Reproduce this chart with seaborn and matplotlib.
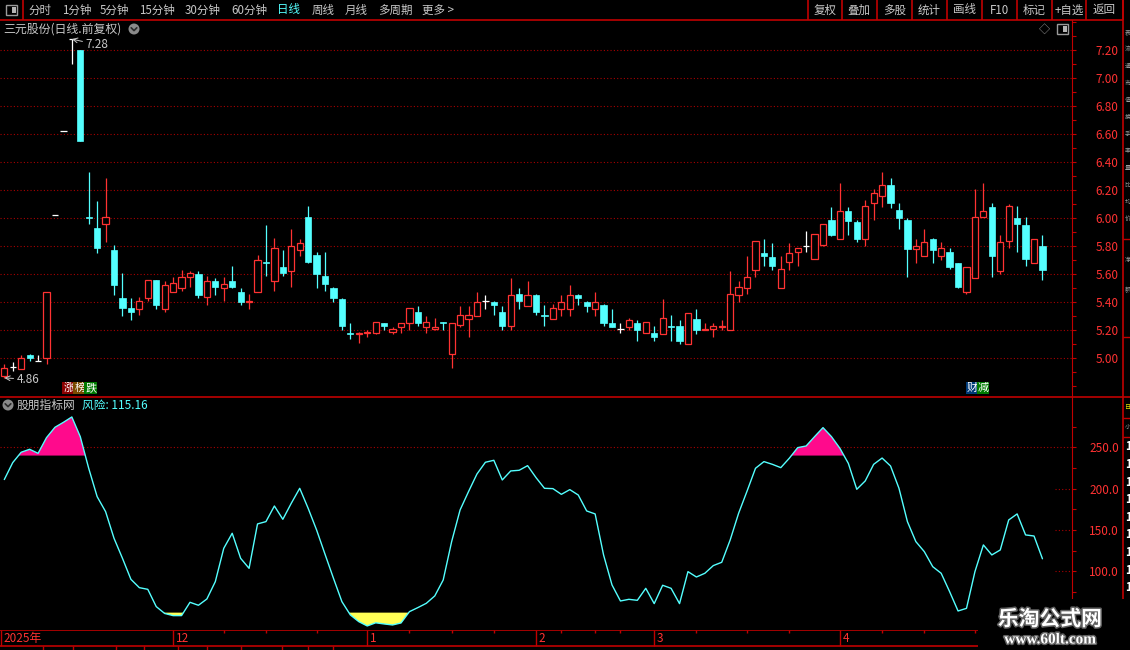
import matplotlib
matplotlib.use("Agg")
import matplotlib.pyplot as plt
import matplotlib.patheffects as pe
from matplotlib.patches import Rectangle, Circle
import numpy as np
import pandas as pd
import seaborn as sns

# ----------------------------------------------------------
# Data (daily candles, 124 sessions)
# ----------------------------------------------------------
opens = [4.87, 4.94, 4.92, 5.02, 4.98, 5.00, 6.02, 6.62, 7.28, 7.20,
         6.01, 5.93, 5.96, 5.77, 5.43, 5.36, 5.35, 5.43, 5.56, 5.35,
         5.47, 5.50, 5.58, 5.60, 5.44, 5.55, 5.50, 5.55, 5.47, 5.40,
         5.47, 5.69, 5.55, 5.65, 5.62, 5.77, 6.01, 5.74, 5.59, 5.50,
         5.42, 5.18, 5.17, 5.18, 5.18, 5.25, 5.19, 5.22, 5.25, 5.33,
         5.22, 5.21, 5.26, 5.03, 5.24, 5.28, 5.30, 5.41, 5.40, 5.33,
         5.23, 5.46, 5.37, 5.45, 5.31, 5.28, 5.35, 5.35, 5.45, 5.40,
         5.35, 5.38, 5.25, 5.21, 5.22, 5.25, 5.18, 5.18, 5.17, 5.23,
         5.23, 5.10, 5.28, 5.20, 5.21, 5.22, 5.20, 5.45, 5.50, 5.63,
         5.75, 5.72, 5.50, 5.69, 5.76, 5.80, 5.71, 5.81, 5.99, 5.85,
         6.05, 5.97, 5.85, 6.11, 6.16, 6.24, 6.06, 5.99, 5.78, 5.73,
         5.85, 5.73, 5.76, 5.68, 5.47, 5.57, 6.01, 6.08, 5.62, 5.84,
         6.00, 5.95, 5.68, 5.80]
highs = [4.96, 4.97, 5.02, 5.03, 5.02, 5.47, 6.02, 6.62, 7.28, 7.20,
         6.33, 6.12, 6.29, 5.81, 5.61, 5.43, 5.44, 5.56, 5.56, 5.55,
         5.58, 5.63, 5.62, 5.62, 5.59, 5.57, 5.58, 5.66, 5.50, 5.46,
         5.74, 5.95, 5.86, 5.77, 5.92, 5.85, 6.09, 5.76, 5.76, 5.51,
         5.43, 5.25, 5.19, 5.20, 5.26, 5.25, 5.22, 5.25, 5.36, 5.37,
         5.30, 5.29, 5.26, 5.25, 5.37, 5.37, 5.47, 5.45, 5.41, 5.37,
         5.57, 5.50, 5.55, 5.46, 5.38, 5.39, 5.45, 5.52, 5.46, 5.41,
         5.47, 5.39, 5.35, 5.25, 5.29, 5.27, 5.26, 5.23, 5.42, 5.31,
         5.27, 5.32, 5.35, 5.25, 5.25, 5.27, 5.62, 5.55, 5.73, 5.84,
         5.85, 5.82, 5.73, 5.82, 5.79, 5.91, 5.89, 5.96, 6.08, 6.25,
         6.08, 5.99, 6.13, 6.21, 6.33, 6.29, 6.11, 6.00, 5.85, 5.92,
         5.86, 5.83, 5.79, 5.68, 5.65, 6.21, 6.25, 6.11, 5.88, 6.10,
         6.09, 6.01, 5.85, 5.88]
lows = [4.86, 4.91, 4.92, 4.98, 4.98, 4.96, 6.02, 6.62, 7.10, 6.55,
        5.96, 5.75, 5.83, 5.45, 5.30, 5.27, 5.31, 5.41, 5.35, 5.33,
        5.47, 5.48, 5.51, 5.43, 5.38, 5.45, 5.41, 5.50, 5.38, 5.35,
        5.47, 5.59, 5.48, 5.59, 5.51, 5.73, 5.68, 5.50, 5.48, 5.40,
        5.20, 5.14, 5.11, 5.15, 5.17, 5.20, 5.17, 5.18, 5.20, 5.23,
        5.18, 5.20, 5.20, 4.93, 5.22, 5.15, 5.30, 5.35, 5.31, 5.20,
        5.20, 5.35, 5.37, 5.31, 5.23, 5.28, 5.30, 5.30, 5.38, 5.33,
        5.30, 5.23, 5.22, 5.18, 5.20, 5.12, 5.18, 5.12, 5.17, 5.12,
        5.10, 5.10, 5.17, 5.20, 5.15, 5.20, 5.20, 5.40, 5.46, 5.58,
        5.66, 5.63, 5.50, 5.63, 5.66, 5.76, 5.71, 5.80, 5.87, 5.85,
        5.88, 5.83, 5.80, 5.99, 6.08, 6.07, 5.92, 5.58, 5.68, 5.73,
        5.68, 5.70, 5.64, 5.50, 5.46, 5.57, 6.01, 5.58, 5.60, 5.79,
        5.76, 5.66, 5.68, 5.56]
closes = [4.93, 4.94, 5.00, 5.00, 4.98, 5.47, 6.02, 6.62, 7.28, 6.55,
          6.00, 5.79, 6.01, 5.52, 5.36, 5.33, 5.41, 5.56, 5.38, 5.52,
          5.54, 5.58, 5.61, 5.45, 5.55, 5.51, 5.53, 5.51, 5.40, 5.41,
          5.70, 5.68, 5.79, 5.61, 5.80, 5.82, 5.69, 5.60, 5.53, 5.43,
          5.23, 5.17, 5.18, 5.19, 5.26, 5.23, 5.21, 5.25, 5.36, 5.25,
          5.26, 5.22, 5.25, 5.25, 5.31, 5.31, 5.40, 5.41, 5.38, 5.23,
          5.45, 5.41, 5.45, 5.33, 5.30, 5.36, 5.40, 5.45, 5.43, 5.37,
          5.40, 5.25, 5.22, 5.21, 5.27, 5.20, 5.26, 5.15, 5.29, 5.22,
          5.12, 5.32, 5.20, 5.21, 5.23, 5.23, 5.46, 5.51, 5.58, 5.84,
          5.73, 5.66, 5.64, 5.75, 5.79, 5.80, 5.89, 5.96, 5.88, 6.05,
          5.98, 5.85, 6.09, 6.18, 6.24, 6.11, 6.00, 5.78, 5.80, 5.83,
          5.77, 5.79, 5.65, 5.51, 5.65, 6.01, 6.05, 5.73, 5.83, 6.09,
          5.96, 5.71, 5.85, 5.63]

# "风险" indicator, one value per session
risk = [211.0, 231.5, 244.0, 247.6, 242.7, 261.7, 274.2, 280.2, 286.7, 262.9,
        224.6, 190.3, 172.2, 139.9, 115.7, 90.3, 80.2, 78.2, 57.3, 49.0,
        46.4, 46.4, 62.5, 58.9, 66.5, 87.5, 127.8, 146.0, 115.7, 103.6,
        157.3, 160.1, 179.0, 162.9, 182.3, 200.4, 176.2, 150.0, 120.6, 91.5,
        63.3, 47.2, 39.1, 33.9, 37.7, 36.3, 35.1, 37.5, 51.2, 56.1,
        61.3, 70.2, 89.5, 135.9, 174.2, 196.4, 217.7, 231.9, 234.3, 210.5,
        221.4, 222.2, 227.8, 213.3, 200.4, 200.0, 193.1, 198.8, 192.3, 173.0,
        169.4, 119.8, 83.5, 64.1, 66.1, 64.9, 79.4, 60.9, 83.1, 79.4,
        60.9, 99.6, 93.1, 97.6, 106.9, 110.9, 137.9, 170.2, 197.0, 224.6,
        232.7, 229.4, 225.4, 236.7, 249.6, 251.6, 262.9, 273.8, 262.9, 248.8,
        230.6, 199.2, 209.3, 229.4, 237.0, 227.4, 200.4, 160.1, 135.9, 123.8,
        105.6, 97.6, 75.4, 52.0, 55.2, 99.6, 131.9, 119.8, 125.8, 162.1,
        169.4, 144.0, 142.7, 115.16]

risk_high = 240
risk_low = 50

month_labels = ["2025年", "12", "1", "2", "3", "4"]
month_index = [-0.45, 20, 43, 63, 77, 99]
week_index = [26, 31, 37, 48, 53, 58, 66, 70, 73, 82, 88, 93, 104, 109, 115]
lower_row_index = [4.6, 8.1, 13.2, 16.6, 20.6, 24, 28, 32.9, 36, 39]

price_labels = np.round(np.arange(5.0, 7.21, 0.2), 2)
risk_labels = [100, 150, 200, 250]

menu_items = ["分时", "1分钟", "5分钟", "15分钟", "30分钟", "60分钟",
              "日线", "周线", "月线", "多周期", "更多 >"]
button_items = ["复权", "叠加", "多股", "统计", "画线", "F10", "标记", "+自选", "返回"]

tag_events = [7, 114]
tag_texts = [["涨", "榜", "跌"], ["财", "减"]]
tag_colors = [["#8A0000", "#7A4A00", "#007A00"], ["#003A78", "#007A00"]]

# ----------------------------------------------------------
# Style
# ----------------------------------------------------------
sns.set_style("dark", {"axes.facecolor": "black", "figure.facecolor": "black"})
plt.rcParams["font.family"] = ["Noto Sans CJK SC", "DejaVu Sans"]
plt.rcParams["axes.unicode_minus"] = False

RED = "#FF3232"
CYAN = "#54FFFF"
GRID = "#A80000"
EDGE = "#C00000"
GRAY = "#C8C8C8"
PINK = "#FF0A8C"
YELLOW = "#FFFF55"

df = pd.DataFrame({"open": opens, "high": highs, "low": lows,
                   "close": closes, "risk": risk})
df["i"] = np.arange(len(df))

W, H = 1130, 650
fig = plt.figure(figsize=(W / 100, H / 100), dpi=100, facecolor="black")


def box(x0, y0, x1, y1):
    return [x0 / W, 1 - y1 / H, (x1 - x0) / W, (y1 - y0) / H]


ax = fig.add_axes(box(0, 20, 1072, 396))
axl = fig.add_axes(box(0, 397, 1072, 630), sharex=ax)
axd = fig.add_axes(box(0, 630, 1072, 650), sharex=ax)

for a in (ax, axl, axd):
    a.set_facecolor("black")
    for s in a.spines.values():
        s.set_visible(False)
    a.grid(False)
    a.tick_params(axis="x", bottom=False, labelbottom=False)

ax.set_xlim(-0.51, 126.5)

# ----------------------------------------------------------
# Candles
# ----------------------------------------------------------
up = df[df["close"] > df["open"]]
dn = df[df["close"] < df["open"]]
eq = df[df["close"] == df["open"]]
wick_colors = np.where(df["close"] > df["open"], RED,
                       np.where(df["close"] < df["open"], CYAN, "white"))

ax.vlines(df["i"], df["low"], df["high"], colors=wick_colors, lw=0.9, zorder=2)
ax.bar(up["i"], (up["close"] - up["open"]).clip(lower=0.008), bottom=up["open"],
       width=0.74, facecolor="black", edgecolor=RED, linewidth=0.9, zorder=3)
ax.bar(dn["i"], (dn["open"] - dn["close"]).clip(lower=0.008), bottom=dn["close"],
       width=0.74, facecolor=CYAN, edgecolor=CYAN, linewidth=0.5, zorder=3)
ax.hlines(eq["open"], eq["i"] - 0.37, eq["i"] + 0.37, colors="white", lw=0.9, zorder=3)

ax.set_ylim(4.7307, 7.4164)
ax.yaxis.tick_right()
ax.set_yticks(price_labels)
ax.set_yticks(np.round(np.arange(4.8, 7.41, 0.1), 2), minor=True)
ax.yaxis.set_major_formatter("{x:.2f}")
ax.tick_params(axis="y", which="both", direction="out", length=3, width=0.8,
               color=EDGE, labelcolor=RED, labelsize=8.5, pad=14)
ax.spines["right"].set_visible(True)
ax.spines["right"].set_color(EDGE)
ax.hlines(price_labels, -0.51, 126.5, colors=GRID, lw=0.8,
          linestyles=(0, (1, 2)), zorder=1)

i_hi = int(np.argmax(highs))
i_lo = int(np.argmin(lows))
ax.annotate(f"{highs[i_hi]:.2f}", xy=(i_hi, highs[i_hi]), xytext=(10, -4),
            textcoords="offset points", ha="left", va="center", color=GRAY,
            fontsize=8.5, arrowprops=dict(arrowstyle="->", color=GRAY, lw=0.7,
                                          shrinkA=0, shrinkB=0))
ax.annotate(f"{lows[i_lo]:.2f}", xy=(i_lo, lows[i_lo]), xytext=(9, -1),
            textcoords="offset points", ha="left", va="center", color=GRAY,
            fontsize=8.5, arrowprops=dict(arrowstyle="->", color=GRAY, lw=0.7,
                                          shrinkA=0, shrinkB=0))

for ev, chars, cols in zip(tag_events, tag_texts, tag_colors):
    for k, (ch, c) in enumerate(zip(chars, cols)):
        ax.annotate(ch, xy=(ev, 0), xycoords=("data", "axes fraction"),
                    xytext=(k * 7.9, 5.8), textcoords="offset points",
                    ha="left", va="center", color="white", fontsize=8,
                    bbox=dict(boxstyle="square,pad=0.08", fc=c, ec="none"))

# ----------------------------------------------------------
# Risk indicator
# ----------------------------------------------------------
sns.lineplot(data=df, x="i", y="risk", ax=axl, color=CYAN, lw=1, zorder=3)
axl.fill_between(df["i"], df["risk"], risk_high, where=df["risk"] > risk_high,
                 interpolate=True, color=PINK, lw=0, zorder=2)
axl.fill_between(df["i"], df["risk"], risk_low, where=df["risk"] < risk_low,
                 interpolate=True, color=YELLOW, lw=0, zorder=2)
axl.set_xlabel("")
axl.set_ylabel("")
axl.set_ylim(28.99, 310.85)
axl.yaxis.tick_right()
axl.set_yticks(risk_labels)
axl.set_yticks([75, 125, 175, 225, 275], minor=True)
axl.yaxis.set_major_formatter("{x:.1f}")
axl.tick_params(axis="y", which="both", direction="out", length=3, width=0.8,
                color=EDGE, labelcolor=RED, labelsize=8.5, pad=9.5)
axl.tick_params(axis="x", bottom=False, labelbottom=False)
axl.spines["right"].set_visible(True)
axl.spines["right"].set_color(EDGE)
axl.axhline(250, color=GRID, lw=0.8, ls=(0, (1, 2)), zorder=1)
for v in risk_labels[:-1]:
    axl.plot([0.984, 0.998], [v, v], transform=axl.get_yaxis_transform(),
             color=GRID, lw=0.8, ls=(0, (1, 2)))

# ----------------------------------------------------------
# Date strip (month row plus a clipped second row below it)
# ----------------------------------------------------------
axd.set_ylim(0, 20)
axd.set_yticks([])
axd.axhline(20, color=EDGE, lw=1.2)
axd.axhline(4, color=EDGE, lw=1.2)
axd.vlines(month_index, 4, 20, colors=EDGE, lw=1)
axd.vlines(week_index, 17, 20, colors=EDGE, lw=1)
axd.vlines(lower_row_index, 0, 4, colors=EDGE, lw=1)
for pos, lab in zip(month_index, month_labels):
    axd.text(pos + 0.3, 11.5, lab, color=RED, fontsize=8.5, va="center", ha="left")

# ----------------------------------------------------------
# Frame, toolbar and captions (pixel overlay)
# ----------------------------------------------------------
ov = fig.add_axes([0, 0, 1, 1])
ov.set_xlim(0, W)
ov.set_ylim(H, 0)
ov.axis("off")
ov.patch.set_alpha(0)

ov.hlines(19.5, 0, 1123, colors=EDGE, lw=1.2)
ov.hlines(396.5, 0, W, colors=EDGE, lw=1.2)
ov.vlines(23, 0, 19.5, colors=EDGE, lw=1.2)
ov.vlines(1123, 0, 600, colors=EDGE, lw=1.2)
ov.hlines([239, 337, 418, 437], 1123, W, colors=EDGE, lw=1)


def toggle_icon(x, y):
    ov.add_patch(Rectangle((x, y), 11, 10, fc="black", ec="#9A9A9A", lw=1))
    ov.add_patch(Rectangle((x + 6, y + 2), 3.5, 6, fc="#B4B4B4", ec="none"))


def chevron_icon(x, y):
    ov.add_patch(Circle((x, y), 5.5, fc="#8A8A8A", ec="none"))
    ov.plot([x - 2.8, x, x + 2.8], [y - 1.2, y + 1.6, y - 1.2], color="#2A2A2A", lw=1.2)


toggle_icon(6, 5)
menu_x = [28, 62, 100, 139, 185, 231, 277, 312, 345, 378, 422]
for mx, item in zip(menu_x, menu_items):
    ov.text(mx, 10, item, color=CYAN if item == "日线" else GRAY,
            fontsize=8.3, va="center", ha="left")

seps = [807.7, 841.7, 876.7, 911.7, 946.7, 981.7, 1016.7, 1051.7, 1086, 1123]
ov.vlines(seps, 0, 19.5, colors=EDGE, lw=1.2)
for k, item in enumerate(button_items):
    ov.text((seps[k] + seps[k + 1]) / 2, 10, item, color=GRAY, fontsize=8.3,
            va="center", ha="center")

ov.text(3, 29, "三元股份(日线.前复权)", color=GRAY, fontsize=8.6, va="center", ha="left")
chevron_icon(134, 29)
ov.text(1044, 29, "◇", color="#9A9A9A", fontsize=8, va="center", ha="center")
toggle_icon(1057, 24)

chevron_icon(8, 405)
ov.text(17, 405, "股朋指标网", color=GRAY, fontsize=8.5, va="center", ha="left")
ov.text(82, 405, f"风险: {risk[-1]:.2f}", color=CYAN, fontsize=8.5, va="center", ha="left")

# narrow side panel on the far right (only a sliver of it is on screen)
side_top = "表流通市值换手率量比均价"
for k, ch in enumerate(side_top):
    ov.text(1124.5, 32 + k * 17, ch, color="#A0A0A0", fontsize=4.4, va="center", ha="left")
for k, ch in enumerate("净额"):
    ov.text(1124.5, 260 + k * 30, ch, color="#A0A0A0", fontsize=4.4, va="center", ha="left")
ov.text(1124.5, 407, "日", color="#E0E000", fontsize=4.4, va="center", ha="left")
ov.text(1124.5, 427, "小", color="#A0A0A0", fontsize=4.4, va="center", ha="left")
for k in range(9):
    ov.text(1125, 447 + k * 17.6, "1", color="white", fontsize=8,
            fontweight="bold", va="center", ha="left")

# watermark
ov.add_patch(Rectangle((978, 599), 152, 51, fc="black", ec="none", zorder=5))
shadow = [pe.withStroke(linewidth=2.2, foreground="#606060")]
ov.text(1050, 619, "乐淘公式网", color="white", fontsize=15, fontweight="bold",
        ha="center", va="center", path_effects=shadow, zorder=6)
ov.text(1050, 640, "www.60lt.com", color="white", fontsize=11, fontweight="bold",
        family="Liberation Serif", ha="center", va="center",
        path_effects=shadow, zorder=6)

fig.savefig("out.png", dpi=100, facecolor="black")
